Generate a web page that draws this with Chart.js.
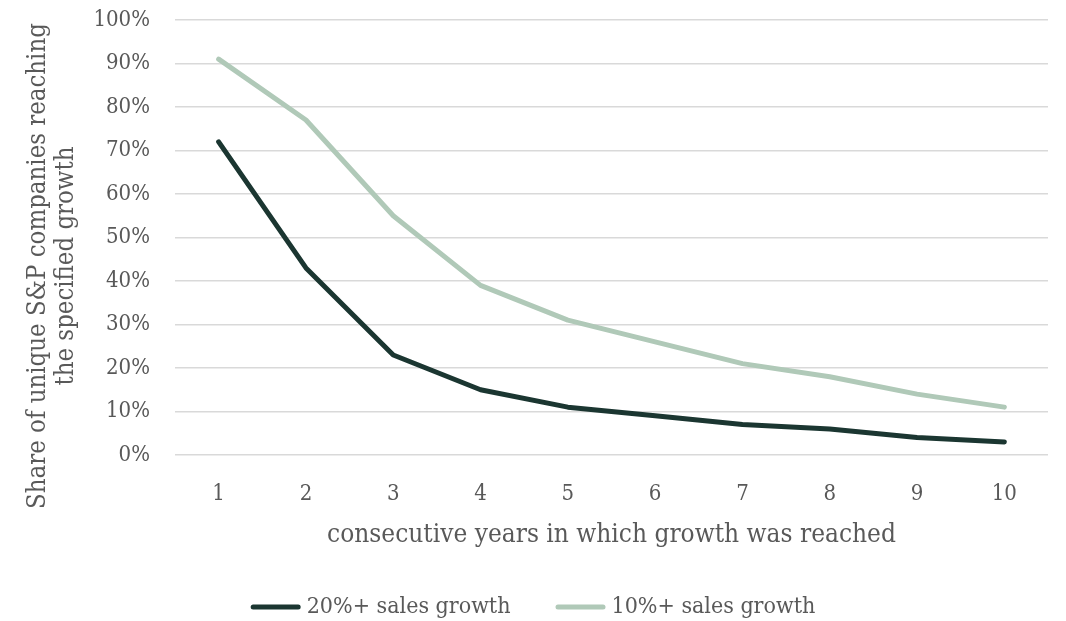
<!DOCTYPE html>
<html>
<head>
<meta charset="utf-8">
<script src="https://cdn.jsdelivr.net/npm/chart.js@4/dist/chart.umd.min.js"></script>
<style>
  html, body { margin: 0; padding: 0; background: #ffffff; }
  #wrap { width: 1066px; height: 621px; position: relative; }
</style>
</head>
<body>
<div id="wrap"><canvas id="chart" width="1066" height="621"></canvas></div>
<script>
// Consecutive years in which growth was reached
const years = ['1', '2', '3', '4', '5', '6', '7', '8', '9', '10'];
// Share of companies (%) reaching 20%+ sales growth
const growth20 = [72, 43, 23, 15, 11, 9, 7, 6, 4, 3];
// Share of companies (%) reaching 10%+ sales growth
const growth10 = [91, 77, 55, 39, 31, 26, 21, 18, 14, 11];
// Y axis tick values (%)
const yTicks = [0, 10, 20, 30, 40, 50, 60, 70, 80, 90, 100];

const seriesNames = ['20%+ sales growth', '10%+ sales growth'];
const yTitleLines = ['Share of unique S&P companies reaching', 'the specified growth'];
const xTitle = 'consecutive years in which growth was reached';

const FONT = "'DejaVu Serif Condensed', 'DejaVu Serif', serif";
const TEXT = '#595959';
const DARK = '#1b3631';
const LIGHT = '#b0c9b8';

// Rotated, two-line title for the value axis
const yTitlePlugin = {
  id: 'yTitle',
  afterDraw(chart) {
    const ctx = chart.ctx;
    ctx.save();
    ctx.fillStyle = TEXT;
    ctx.font = '25.5px ' + FONT;
    ctx.textAlign = 'center';
    ctx.textBaseline = 'middle';
    const cy = 266;
    const xs = [38, 66];
    yTitleLines.forEach((line, i) => {
      ctx.save();
      ctx.translate(xs[i], cy);
      ctx.rotate(-Math.PI / 2);
      ctx.fillText(line, 0, 0);
      ctx.restore();
    });
    ctx.restore();
  }
};

// Line-sample legend centred under the chart
const lineLegendPlugin = {
  id: 'lineLegend',
  afterDraw(chart) {
    const ctx = chart.ctx;
    const sample = 50, gap = 6, spacing = 45, y = 607;
    ctx.save();
    ctx.font = '23px ' + FONT;
    ctx.textBaseline = 'middle';
    ctx.textAlign = 'left';
    const items = chart.data.datasets.map(ds => ({
      text: ds.label, color: ds.borderColor, w: ctx.measureText(ds.label).width
    }));
    const total = items.reduce((s, it) => s + sample + gap + it.w, 0) + spacing * (items.length - 1);
    let x = 533 - total / 2;
    items.forEach(it => {
      ctx.strokeStyle = it.color;
      ctx.lineWidth = 5;
      ctx.lineCap = 'round';
      ctx.beginPath();
      ctx.moveTo(x + 2.5, y);
      ctx.lineTo(x + sample - 2.5, y);
      ctx.stroke();
      ctx.fillStyle = TEXT;
      ctx.fillText(it.text, x + sample + gap, y);
      x += sample + gap + it.w + spacing;
    });
    ctx.restore();
  }
};

new Chart(document.getElementById('chart'), {
  type: 'line',
  data: {
    labels: years,
    datasets: [
      {
        label: seriesNames[0],
        data: growth20,
        borderColor: DARK,
        backgroundColor: DARK,
        borderWidth: 5,
        borderCapStyle: 'round',
        borderJoinStyle: 'round',
        pointRadius: 0,
        tension: 0
      },
      {
        label: seriesNames[1],
        data: growth10,
        borderColor: LIGHT,
        backgroundColor: LIGHT,
        borderWidth: 5,
        borderCapStyle: 'round',
        borderJoinStyle: 'round',
        pointRadius: 0,
        tension: 0
      }
    ]
  },
  options: {
    responsive: false,
    animation: false,
    devicePixelRatio: 1,
    layout: { padding: { left: 0, right: 18, top: 20, bottom: 30 } },
    plugins: {
      tooltip: { enabled: false },
      legend: { display: false }
    },
    scales: {
      x: {
        offset: true,
        afterFit(scale) { scale.height = 136; },
        grid: { display: false, drawTicks: false },
        border: { display: false },
        ticks: {
          color: TEXT,
          font: { family: FONT, size: 22 },
          padding: 26,
          maxRotation: 0
        },
        title: {
          display: true,
          text: xTitle,
          color: TEXT,
          font: { family: FONT, size: 26 },
          padding: { top: 0, bottom: 40 }
        }
      },
      y: {
        min: 0,
        max: 100,
        afterFit(scale) { scale.width = 175; },
        afterBuildTicks(scale) { scale.ticks = yTicks.map(v => ({ value: v })); },
        grid: {
          color: '#d9d9d9',
          lineWidth: 1.5,
          drawTicks: true,
          tickLength: 25,
          tickColor: 'rgba(0,0,0,0)'
        },
        border: { display: false },
        ticks: {
          color: TEXT,
          font: { family: FONT, size: 22 },
          padding: 0,
          callback: v => v + '%'
        }
      }
    }
  },
  plugins: [yTitlePlugin, lineLegendPlugin]
});
</script>
</body>
</html>
